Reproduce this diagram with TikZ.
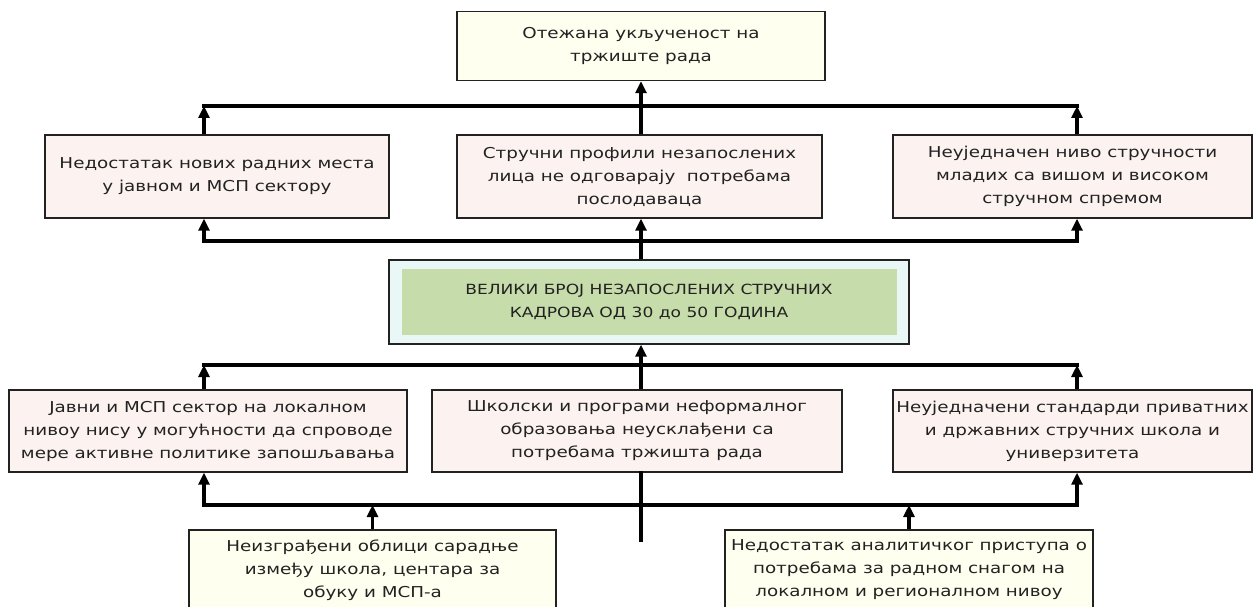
\documentclass[tikz,border=0pt]{standalone}
\usepackage{fontspec}
\setmainfont{DejaVu Sans}[FakeStretch=1.22]
\usetikzlibrary{arrows.meta}
\definecolor{cream}{HTML}{FFFFF0}
\definecolor{rose}{HTML}{FCF3F1}
\definecolor{sky}{HTML}{EAF7F7}
\definecolor{leaf}{HTML}{C6DCAA}
\definecolor{ink}{HTML}{222222}
\tikzset{
    box/.style={draw=ink, line width=1.4pt, text=ink, align=center, inner sep=0pt,
        font=\fontsize{15}{23}\selectfont},
    causebox/.style={box, fill=rose},
    goalbox/.style={box, fill=cream},
    bus/.style={line width=3.3pt, line cap=rect},
    up/.style={line width=3.3pt, -{Triangle[length=12pt,width=11pt]}}
}

\begin{document}
\begin{tikzpicture}[x=1pt, y=-1pt]
    \useasboundingbox (0,0) rectangle (1253,607);
    \clip (0,0) rectangle (1253,607);
    \coordinate (cl) at (204,0);
    \coordinate (cm) at (641,0);
    \coordinate (cr) at (1077,0);
    \coordinate (b1) at (0,106);
    \coordinate (b2) at (0,241);
    \coordinate (b3) at (0,365);
    \coordinate (b4) at (0,505);
    \coordinate (stub) at (0,540);
    %posledica
    \node[goalbox, minimum width=368pt, minimum height=69pt] (trziste) at (641,46) {Отежана укљученост на\\тржиште рада};
    %gornji red
    \node[causebox, minimum width=344pt, minimum height=83pt] (nedostatak) at (217,176.5) {Недостатак нових радних места\\у јавном и МСП сектору};
    \node[causebox, minimum width=365pt, minimum height=83pt] (profili) at (639.5,176.5) {Стручни профили незапослених\\лица не одговарају~ потребама\\послодаваца};
    \node[causebox, minimum width=359pt, minimum height=83pt] (nivo) at (1072.5,176.5) {Неуједначен ниво стручности\\младих са вишом и високом\\стручном спремом};
    %problem
    \node[box, fill=sky, minimum width=520pt, minimum height=84pt] (veliki) at (649,302) {};
    \node[fill=leaf, text=ink, align=center, inner sep=0pt, minimum width=495pt, minimum height=66pt,
        font=\fontsize{14}{23}\selectfont] (velikitekst) at (veliki) {ВЕЛИКИ БРОЈ НЕЗАПОСЛЕНИХ СТРУЧНИХ\\КАДРОВА ОД 30 до 50 ГОДИНА};
    %donji red
    \node[causebox, minimum width=398pt, minimum height=82pt] (javni) at (208,431) {Јавни и МСП сектор на локалном\\нивоу нису у могућности да спроводе\\мере активне политике запошљавања};
    \node[causebox, minimum width=410pt, minimum height=82pt] (skolski) at (637,431) {Школски и програми неформалног\\образовања неусклађени са\\потребама тржишта рада};
    \node[causebox, minimum width=359pt, minimum height=82pt] (standardi) at (1072.5,431) {Неуједначени стандарди приватних\\и државних стручних школа и\\универзитета};
    %uzroci
    \node[goalbox, minimum width=367pt, minimum height=80pt] (saradnja) at (372.5,570) {Неизграђени облици сарадње\\између школа, центара за\\обуку и МСП-а};
    \node[goalbox, minimum width=368pt, minimum height=80pt] (analiza) at (909,570) {Недостатак аналитичког приступа о\\потребама за радном снагом на\\локалном и регионалном нивоу};
    %veze
    \draw[bus] (cl |- b1) -- (cr |- b1);
    \draw[up] (cl |- nedostatak.north) -- (cl |- b1);
    \draw[up] (cr |- nivo.north) -- (cr |- b1);
    \draw[up] (cm |- profili.north) -- (cm |- trziste.south);
    \draw[bus] (cl |- b2) -- (cr |- b2);
    \draw[up] (cl |- b2) -- (cl |- nedostatak.south);
    \draw[up] (cr |- b2) -- (cr |- nivo.south);
    \draw[up] (cm |- veliki.north) -- (cm |- profili.south);
    \draw[bus] (cl |- b3) -- (cr |- b3);
    \draw[up] (cl |- javni.north) -- (cl |- b3);
    \draw[up] (cr |- standardi.north) -- (cr |- b3);
    \draw[up] (cm |- skolski.north) -- (cm |- veliki.south);
    \draw[bus] (cl |- b4) -- (cr |- b4);
    \draw[up] (cl |- b4) -- (cl |- javni.south);
    \draw[up] (cr |- b4) -- (cr |- standardi.south);
    \draw[bus] (cm |- skolski.south) -- (cm |- stub);
    \draw[up] (saradnja.north) -- (saradnja.north |- b4);
    \draw[up] (analiza.north) -- (analiza.north |- b4);
\end{tikzpicture}
\end{document}
